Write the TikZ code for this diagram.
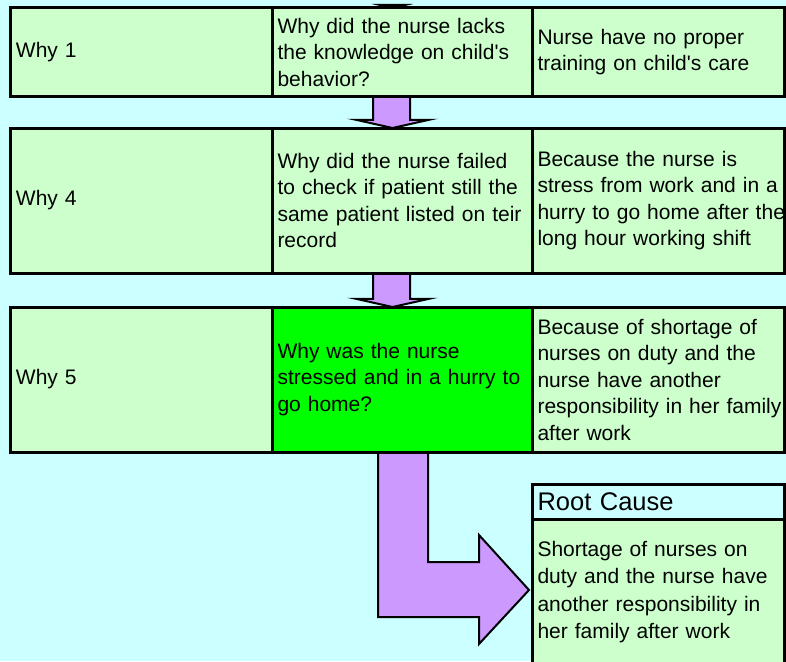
\documentclass[tikz,border=0pt]{standalone}
\usepackage{fontspec}
\setmainfont{Liberation Sans}
\usetikzlibrary{calc,backgrounds}
\definecolor{Sky}{HTML}{CCFFFF}
\definecolor{Mint}{HTML}{CCFFCC}
\definecolor{Lime}{HTML}{00FF00}
\definecolor{Lilac}{HTML}{CC99FF}
\newcommand{\cellfont}{\fontsize{21}{26.5}\selectfont}
\newcommand{\ap}{\textquotesingle}
\tikzset{
  cell/.style={draw=black, line width=3pt, fill=Mint, anchor=north west, outer sep=0pt, inner xsep=5.5pt, inner ysep=0pt, align=left, font=\cellfont},
  whybox/.style={cell, minimum width=261.5pt, text width=250.5pt},
  askbox/.style={cell, minimum width=260pt, text width=249pt},
  causebox/.style={cell, minimum width=252.5pt, text width=241.5pt},
  hotbox/.style={askbox, fill=Lime},
  headbox/.style={causebox, fill=Sky, minimum height=35pt, font=\fontsize{25.5}{28}\selectfont},
  blockarr/.style={draw=black, line width=2pt, fill=Lilac, line join=miter}
}
% block arrow dropping from one question cell to the next
\newcommand{\dropArrow}[2]{%
  \draw[blockarr] ($(#1.south west)+(101,0)$) -- ($(#2.north west)+(101,-8.2)$)
    -- ($(#2.north west)+(84,-8.2)$) -- ($(#2.north west)+(120.5,0)$)
    -- ($(#2.north west)+(157,-8.2)$) -- ($(#2.north west)+(138,-8.2)$)
    -- ($(#1.south west)+(138,0)$) -- cycle;}

\begin{document}
\begin{tikzpicture}[x=1pt,y=-1pt]
\useasboundingbox (0,0) rectangle (786,661);

\node[whybox, minimum height=88pt] (w1) at (10.5,8) {Why 1};
\node[askbox, minimum height=88pt] (q1) at (w1.north east) {Why did the nurse lacks\\the knowledge on child\ap s\\behavior?};
\node[causebox, minimum height=88pt] (a1) at (q1.north east) {Nurse have no proper\\training on child\ap s care};

\node[whybox, minimum height=145pt] (w4) at (10.5,128) {Why 4};
\node[askbox, minimum height=145pt] (q4) at (w4.north east) {Why did the nurse failed\\\mbox{to check if patient still the}\\same patient listed on teir\\record};
\node[causebox, minimum height=145pt] (a4) at (q4.north east) {Because the nurse is\\\mbox{stress from work and in a}\\\mbox{hurry to go home after the}\\long hour working shift};

\node[whybox, minimum height=145pt] (w5) at (10.5,307) {Why 5};
\node[hotbox, minimum height=145pt] (q5) at (w5.north east) {Why was the nurse\\\mbox{stressed and in a hurry to}\\go home?};
\node[causebox, minimum height=145pt] (a5) at (q5.north east) {Because of shortage of\\nurses on duty and the\\nurse have another\\\mbox{responsibility in her family}\\after work};

\node[headbox] (rc) at (532,484) {Root Cause};
\node[causebox, minimum height=146pt, font=\fontsize{21}{27.4}\selectfont] (rb) at (rc.south west) {Shortage of nurses on\\\mbox{duty and the nurse have}\\another responsibility in\\her family after work};

\begin{scope}[on background layer]
\fill[Sky] (0,0) rectangle (786,661);
\draw[blockarr] ($(q1.north west)+(108,-3)$) -- ($(q1.north west)+(120.5,0)$) -- ($(q1.north west)+(133,-3)$) -- cycle;
\dropArrow{q1}{q4}
\dropArrow{q4}{q5}
\draw[blockarr] ($(q5.south west)+(106,0)$) |- ($(rb.west)+(-53,25)$) -- ($(rb.west)+(-53,52)$)
  -- ($(rb.west)+(-3,-2)$) -- ($(rb.west)+(-53,-57)$) -- ($(rb.west)+(-53,-30)$)
  -| ($(q5.south west)+(156,0)$) -- cycle;
\end{scope}
\end{tikzpicture}
\end{document}
